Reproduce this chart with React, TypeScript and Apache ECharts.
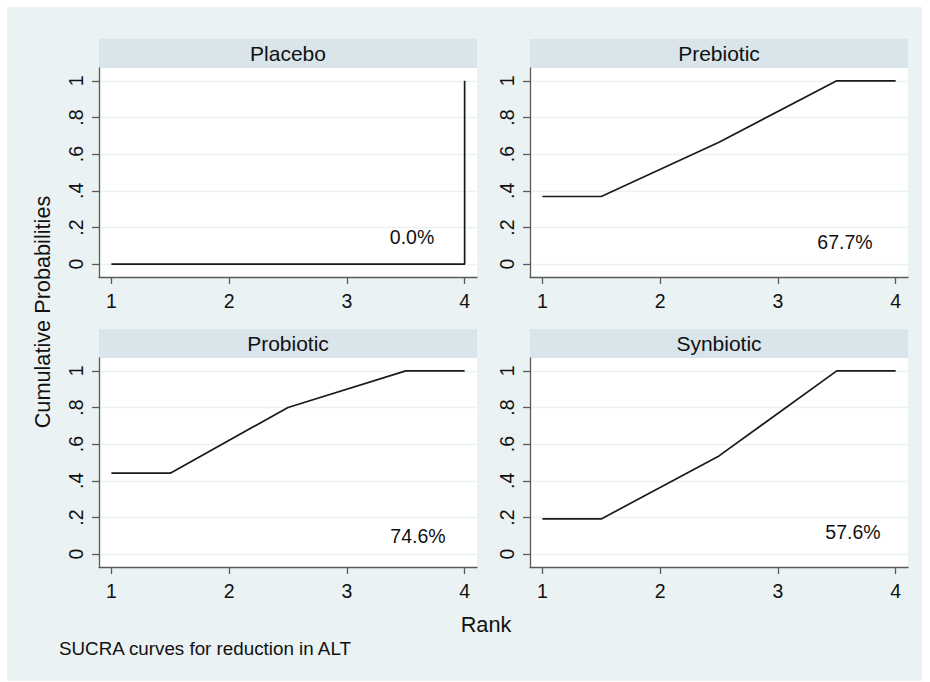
import React, { useEffect, useRef } from "react";
import * as echarts from "echarts";

const panelNames = ["Placebo", "Prebiotic", "Probiotic", "Synbiotic"];
const sucraLabels = ["0.0%", "67.7%", "74.6%", "57.6%"];
const xTicks = [1, 2, 3, 4];
const yTicks = [0, 0.2, 0.4, 0.6, 0.8, 1];
const curveX = [1, 1.5, 2.5, 3.5, 4];
const placeboX = [1, 4, 4];
const placeboY = [0, 0, 1];
const prebioticY = [0.369, 0.369, 0.665, 1, 1];
const probioticY = [0.442, 0.442, 0.8, 1, 1];
const synbioticY = [0.192, 0.192, 0.536, 1, 1];

const FONT = "'Liberation Sans', Arial, Helvetica, sans-serif";
const gridLefts = [99, 530];
const gridTops = [68, 358];
const GW = 378;
const GH = 209;
const sucraPos = [
  [412, 237],
  [845, 242],
  [418, 536],
  [853, 532],
];

function fmtY(v: number) {
  if (v === 0) return "0";
  if (v === 1) return "1";
  return "." + String(Math.round(v * 10));
}

export default function App() {
  const ref = useRef<HTMLDivElement>(null);
  useEffect(() => {
    document.body.style.margin = "0";
    const chart = echarts.init(ref.current!, null, { renderer: "svg" });
    const seriesX = [placeboX, curveX, curveX, curveX];
    const seriesY = [placeboY, prebioticY, probioticY, synbioticY];
    const grids: any[] = [];
    const xAxes: any[] = [];
    const yAxes: any[] = [];
    const series: any[] = [];
    const graphics: any[] = [
      {
        type: "rect",
        shape: { x: 7, y: 7, width: 915, height: 674 },
        style: { fill: "#EAF2F3" },
        z: -10,
      },
    ];
    panelNames.forEach((name, i) => {
      const left = gridLefts[i % 2];
      const top = gridTops[Math.floor(i / 2)];
      grids.push({
        left,
        top,
        width: GW,
        height: GH,
        show: true,
        backgroundColor: "#ffffff",
        borderWidth: 0,
      });
      xAxes.push({
        type: "value",
        gridIndex: i,
        min: 0.895,
        max: 4.105,
        axisLine: { show: true, onZero: false, lineStyle: { color: "#5a5a5a", width: 1.3 } },
        axisTick: { show: true, customValues: xTicks, length: 7, lineStyle: { color: "#5a5a5a", width: 1.3 } },
        axisLabel: { customValues: xTicks, fontSize: 19.5, color: "#111", fontFamily: FONT, margin: 14 },
        splitLine: { show: false },
      });
      yAxes.push({
        type: "value",
        gridIndex: i,
        min: -0.07,
        max: 1.07,
        axisLine: { show: true, onZero: false, lineStyle: { color: "#5a5a5a", width: 1.3 } },
        axisTick: { show: true, customValues: yTicks, length: 7, lineStyle: { color: "#5a5a5a", width: 1.3 } },
        axisLabel: {
          customValues: yTicks,
          rotate: 90,
          fontSize: 19.5,
          color: "#111",
          fontFamily: FONT,
          margin: 13,
          formatter: (v: number) => fmtY(v),
        },
        splitLine: { show: true, lineStyle: { color: "#EAF2F3", width: 1.3 } },
      });
      series.push({
        type: "line",
        xAxisIndex: i,
        yAxisIndex: i,
        data: seriesX[i].map((x, k) => [x, seriesY[i][k]]),
        showSymbol: false,
        symbol: "none",
        lineStyle: { color: "#1a1a1a", width: 1.7 },
        silent: true,
      });
      graphics.push({
        type: "rect",
        shape: { x: left, y: top - 29, width: GW, height: 29 },
        style: { fill: "#D9E5EA" },
      });
      graphics.push({
        type: "text",
        x: left + GW / 2,
        y: top - 14.5,
        style: {
          text: name,
          fontSize: 21,
          fontFamily: FONT,
          fill: "#111",
          textAlign: "center",
          textVerticalAlign: "middle",
        },
      });
      graphics.push({
        type: "text",
        x: sucraPos[i][0],
        y: sucraPos[i][1],
        style: {
          text: sucraLabels[i],
          fontSize: 19.5,
          fontFamily: FONT,
          fill: "#111",
          textAlign: "center",
          textVerticalAlign: "middle",
        },
      });
    });
    graphics.push({
      type: "text",
      x: 42,
      y: 312,
      rotation: Math.PI / 2,
      style: {
        text: "Cumulative Probabilities",
        fontSize: 21.7,
        fontFamily: FONT,
        fill: "#111",
        textAlign: "center",
        textVerticalAlign: "middle",
      },
    });
    graphics.push({
      type: "text",
      x: 486,
      y: 624,
      style: {
        text: "Rank",
        fontSize: 21.7,
        fontFamily: FONT,
        fill: "#111",
        textAlign: "center",
        textVerticalAlign: "middle",
      },
    });
    graphics.push({
      type: "text",
      x: 59,
      y: 648,
      style: {
        text: "SUCRA curves for reduction in ALT",
        fontSize: 18.8,
        fontFamily: FONT,
        fill: "#111",
        textAlign: "left",
        textVerticalAlign: "middle",
      },
    });
    chart.setOption({
      animation: false,
      backgroundColor: "#ffffff",
      grid: grids,
      xAxis: xAxes,
      yAxis: yAxes,
      series,
      graphic: { elements: graphics },
    });
    return () => chart.dispose();
  }, []);
  return <div ref={ref} style={{ width: 930, height: 682 }} />;
}
